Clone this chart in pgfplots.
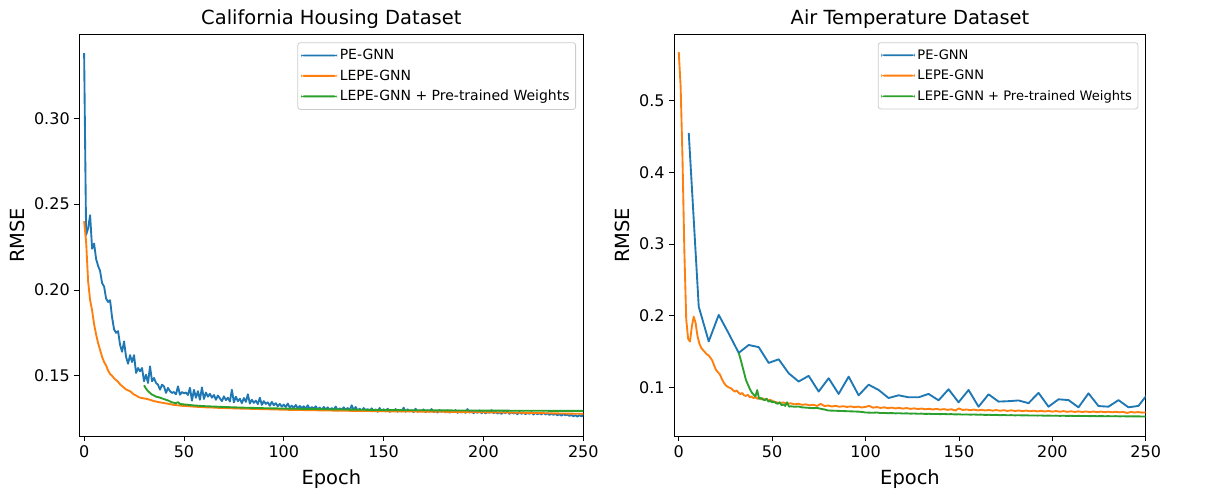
\documentclass[border=0pt]{standalone}
\usepackage{fontspec}
\setmainfont{DejaVu Sans}
\usepackage{pgfplots}
\pgfplotsset{compat=1.18}
\definecolor{tabblue}{HTML}{1F77B4}
\definecolor{taborange}{HTML}{FF7F0E}
\definecolor{tabgreen}{HTML}{2CA02C}
\definecolor{legframe}{HTML}{CCCCCC}
\pgfplotsset{mystyle/.style={
  scale only axis, anchor=south west,
  height=301pt,
  tick align=outside, tick pos=left, major tick length=3.7pt,
  every tick/.style={black, line width=0.6pt},
  axis line style={line width=0.6pt},
  xmin=-2.4, xmax=250, xtick={0,50,100,150,200,250},
  tick label style={font=\fontsize{12}{14}\selectfont},
  label style={font=\fontsize{14.6}{17}\selectfont},
  xlabel style={yshift=-2pt},
  title style={font=\fontsize{14.6}{17}\selectfont, yshift=-5pt},
  xlabel={Epoch}, ylabel={RMSE},
  /pgf/number format/assume math mode=true,
  legend cell align=left,
  legend style={at={(1,1)}, anchor=north east, xshift=-5.5pt, yshift=-5.7pt,
    draw=legframe, line width=0.6pt, rounded corners=2pt, fill=white,
    inner xsep=2.5pt, inner ysep=3pt, row sep=2pt},
}}
\pgfplotsset{pln/.style={line width=1.4pt, line join=round}}
\begin{document}
\begin{tikzpicture}[x=1pt,y=1pt]
\useasboundingbox (0,0) rectangle (905.25,-368.25);
\begin{axis}[mystyle, at={(59.5pt,-327pt)}, width=378pt,
  legend style={font=\fontsize{10.5}{12}\selectfont},
  legend image code/.code={\fill[#1] (0pt,-0.7pt) rectangle (27pt,0.7pt);},
  ymin=0.1149, ymax=0.3487, ytick={0.15,0.20,0.25,0.30},
  yticklabel style={/pgf/number format/.cd, fixed, fixed zerofill, precision=2},
  title={California Housing Dataset}]
\addlegendimage{fill=tabblue, draw=none}
\addlegendentry{PE-GNN}
\addlegendimage{fill=taborange, draw=none}
\addlegendentry{LEPE-GNN}
\addlegendimage{fill=tabgreen, draw=none}
\addlegendentry{LEPE-GNN + Pre-trained Weights}
\addplot[tabblue, pln, forget plot] coordinates {
(0,0.338) (1,0.232) (2,0.236) (3,0.2435) (4,0.224) (5,0.227) (6,0.218) (7,0.214) (8,0.211) (9,0.204)
(10,0.202) (11,0.195) (12,0.193) (13,0.194) (14,0.184) (15,0.177) (16,0.175) (17,0.176) (18,0.168) (19,0.164)
(20,0.170) (21,0.161) (22,0.157) (23,0.162) (24,0.158) (25,0.162) (26,0.1516) (27,0.1545) (28,0.1526) (29,0.1545)
(30,0.1468) (31,0.1506) (32,0.1458) (33,0.1555) (34,0.1468) (35,0.1487) (36,0.1458) (37,0.1448) (38,0.1419) (39,0.1448)
(40,0.1438) (41,0.1400) (42,0.1429) (43,0.1410) (44,0.1400) (45,0.1405) (46,0.1392) (47,0.1438) (48,0.1390) (49,0.1405)
(50,0.1398) (51,0.1402) (52,0.1388) (53,0.1430) (54,0.1355) (55,0.1418) (56,0.1372) (57,0.1410) (58,0.1360) (59,0.1432)
(60,0.1365) (61,0.1402) (62,0.1378) (63,0.1395) (64,0.1372) (65,0.1388) (66,0.1360) (67,0.1385) (68,0.1368) (69,0.1352)
(70,0.1380) (71,0.1358) (72,0.1372) (73,0.1350) (74,0.1418) (75,0.1345) (76,0.1378) (77,0.1352) (78,0.1366) (79,0.1340)
(80,0.1370) (81,0.1348) (82,0.1392) (83,0.1338) (84,0.1360) (85,0.1342) (86,0.1355) (87,0.1335) (88,0.1372) (89,0.1330)
(90,0.1352) (91,0.1336) (92,0.1345) (93,0.1325) (94,0.1348) (95,0.1328) (96,0.1340) (97,0.1322) (98,0.1336) (99,0.1320)
(100,0.1332) (101,0.1318) (102,0.1338) (103,0.1315) (104,0.1326) (105,0.1312) (106,0.1330) (107,0.1310) (108,0.1324) (109,0.1312)
(110,0.1322) (111,0.1308) (112,0.1328) (113,0.1305) (114,0.1318) (115,0.1308) (116,0.1322) (117,0.1303) (118,0.1315) (119,0.1300)
(120,0.1318) (121,0.1304) (122,0.1316) (123,0.1300) (124,0.1312) (125,0.1302) (126,0.1320) (127,0.1298) (128,0.1310) (129,0.1302)
(130,0.1316) (131,0.1300) (132,0.1312) (133,0.1298) (134,0.1328) (135,0.1300) (136,0.1318) (137,0.1296) (138,0.1308) (139,0.1293)
(140,0.1312) (141,0.1298) (142,0.1306) (143,0.1294) (144,0.1310) (145,0.1296) (146,0.1304) (147,0.1290) (148,0.1312) (149,0.1294)
(150,0.1305) (151,0.1292) (152,0.1308) (153,0.1290) (154,0.1300) (155,0.1294) (156,0.1306) (157,0.1290) (158,0.1302) (159,0.1292)
(160,0.1314) (161,0.1290) (162,0.1304) (163,0.1292) (164,0.1300) (165,0.1288) (166,0.1308) (167,0.1290) (168,0.1298) (169,0.1292)
(170,0.1304) (171,0.1288) (172,0.1298) (173,0.1290) (174,0.1306) (175,0.1288) (176,0.1296) (177,0.1286) (178,0.1300) (179,0.1290)
(180,0.1296) (181,0.1286) (182,0.1298) (183,0.1285) (184,0.1294) (185,0.1288) (186,0.1300) (187,0.1284) (188,0.1296) (189,0.1286)
(190,0.1294) (191,0.1284) (192,0.1306) (193,0.1286) (194,0.1296) (195,0.1282) (196,0.1292) (197,0.1284) (198,0.1298) (199,0.1282)
(200,0.1292) (201,0.1280) (202,0.1290) (203,0.1284) (204,0.1300) (205,0.1282) (206,0.1290) (207,0.1280) (208,0.1288) (209,0.1278)
(210,0.1290) (211,0.1282) (212,0.1294) (213,0.1278) (214,0.1288) (215,0.1280) (216,0.1286) (217,0.1276) (218,0.1290) (219,0.1278)
(220,0.1286) (221,0.1276) (222,0.1284) (223,0.1278) (224,0.1288) (225,0.1274) (226,0.1284) (227,0.1276) (228,0.1282) (229,0.1274)
(230,0.1286) (231,0.1274) (232,0.1282) (233,0.1272) (234,0.1280) (235,0.1272) (236,0.1278) (237,0.1270) (238,0.1276) (239,0.1268)
(240,0.1276) (241,0.1270) (242,0.1274) (243,0.1266) (244,0.1272) (245,0.1264) (246,0.1270) (247,0.1262) (248,0.1270) (249,0.1264)
(250,0.1268)};
\addplot[taborange, pln, forget plot] coordinates {
(0,0.240) (1,0.228) (2,0.205) (3,0.194) (4,0.188) (5,0.180) (6,0.174) (7,0.169) (8,0.165) (9,0.161)
(10,0.158) (11,0.156) (12,0.153) (13,0.151) (14,0.150) (15,0.1485) (16,0.1475) (17,0.1465) (18,0.145) (19,0.1440)
(20,0.143) (21,0.142) (22,0.1415) (23,0.141) (24,0.140) (25,0.139) (26,0.1385) (27,0.1378) (28,0.1372) (29,0.1370)
(30,0.1368) (31,0.1366) (32,0.1363) (33,0.1360) (34,0.1356) (35,0.1352) (36,0.1350) (37,0.1347) (38,0.1345) (40,0.1341)
(42,0.1337) (44,0.1332) (46,0.1329) (48,0.1326) (50,0.1324) (52,0.1323) (55,0.1320) (58,0.1318) (61,0.1316) (64,0.1315)
(67,0.1313) (70,0.1312) (75,0.1310) (80,0.1308) (85,0.1307) (90,0.1305) (95,0.1304) (100,0.1302) (105,0.1301) (110,0.1300)
(115,0.1299) (120,0.1298) (125,0.1297) (130,0.1296) (140,0.1295) (150,0.1293) (160,0.1292) (170,0.1291) (180,0.1290) (190,0.1288)
(200,0.1287) (210,0.1286) (220,0.1284) (230,0.1282) (240,0.1280) (250,0.1278)};
\addplot[tabgreen, pln, forget plot] coordinates {
(30,0.1444) (31,0.1425) (32,0.1410) (33,0.1400) (34,0.1390) (35,0.1385) (36,0.1378) (37,0.1376) (38,0.1372) (39,0.1368)
(40,0.1364) (42,0.1356) (44,0.1345) (46,0.1340) (47,0.1346) (48,0.1336) (50,0.1333) (55,0.1327) (60,0.1323) (70,0.1318)
(80,0.1314) (90,0.1311) (100,0.1309) (120,0.1305) (150,0.1300) (200,0.1297) (250,0.1295)};
\end{axis}
\begin{axis}[mystyle, at={(505.7pt,-327pt)}, width=353.6pt,
  legend style={font=\fontsize{9.8}{11.5}\selectfont, row sep=2.6pt},
  legend image code/.code={\fill[#1] (0pt,-0.7pt) rectangle (25pt,0.7pt);},
  ymin=0.032, ymax=0.592, ytick={0.1,0.2,0.3,0.4,0.5},
  yticklabel style={/pgf/number format/.cd, fixed, fixed zerofill, precision=1},
  title={Air Temperature Dataset}]
\addlegendimage{fill=tabblue, draw=none}
\addlegendentry{PE-GNN}
\addlegendimage{fill=taborange, draw=none}
\addlegendentry{LEPE-GNN}
\addlegendimage{fill=tabgreen, draw=none}
\addlegendentry{LEPE-GNN + Pre-trained Weights}
\addplot[tabblue, pln, forget plot] coordinates {
(5.35,0.455) (10.7,0.2125) (16.05,0.164) (21.4,0.201) (26.75,0.175) (32.1,0.148) (37.45,0.159) (42.8,0.156) (48.15,0.134) (53.5,0.139)
(58.85,0.1195) (64.2,0.108) (69.55,0.116) (74.9,0.094) (80.25,0.1126) (85.6,0.0907) (90.95,0.1148) (96.3,0.0888) (101.65,0.1036) (107,0.0962)
(112.35,0.085) (117.7,0.0888) (123.05,0.086) (128.4,0.086) (133.75,0.0907) (139.1,0.0818) (144.45,0.0972) (149.8,0.079) (155.15,0.0962) (160.5,0.0729)
(165.85,0.0902) (171.2,0.080) (176.55,0.0806) (181.9,0.0816) (187.25,0.0778) (192.6,0.0922) (197.95,0.0729) (203.3,0.0832) (208.65,0.0821) (214,0.0720)
(219.35,0.0915) (224.7,0.0738) (230.05,0.0729) (235.4,0.0821) (240.75,0.0720) (246.1,0.0740) (251.45,0.092)};
\addplot[taborange, pln, forget plot] coordinates {
(0,0.5676) (1,0.52) (2,0.42) (3,0.29) (4,0.195) (5,0.168) (6,0.1637) (7,0.1846) (8,0.1985) (9,0.190)
(10,0.172) (11,0.1614) (12,0.155) (13,0.152) (14,0.149) (15,0.146) (16,0.1445) (17,0.141) (18,0.137) (19,0.130)
(20,0.124) (21,0.121) (22,0.118) (23,0.112) (24,0.107) (25,0.1032) (26,0.101) (27,0.0995) (28,0.0986) (29,0.096)
(30,0.0939) (31,0.0955) (32,0.0925) (33,0.0905) (34,0.0920) (35,0.0885) (36,0.0880) (37,0.0895) (38,0.0862) (39,0.0870)
(40,0.0850) (41,0.0862) (42,0.0840) (43,0.0855) (44,0.0830) (45,0.0845) (46,0.0825) (47,0.0838) (48,0.0815) (49,0.0825)
(50,0.0808) (52,0.0792) (54,0.0780) (56,0.0788) (58,0.0770) (60,0.0776) (62,0.0762) (64,0.0770) (66,0.0755) (68,0.0762)
(70,0.0748) (72,0.0756) (74,0.0740) (76,0.0768) (78,0.0738) (80,0.0745) (82,0.0732) (84,0.0740) (86,0.0728) (88,0.0736)
(90,0.0725) (92,0.0733) (94,0.0722) (96,0.0730) (98,0.0718) (100,0.0726) (102,0.0740) (104,0.0715) (106,0.0724) (108,0.0712)
(110,0.0720) (112,0.0708) (114,0.0716) (116,0.0705) (118,0.0713) (120,0.0702) (122,0.0710) (124,0.0698) (126,0.0706) (128,0.0696)
(130,0.0703) (132,0.0693) (134,0.0700) (136,0.0690) (138,0.0698) (140,0.0688) (142,0.0695) (144,0.0685) (146,0.0693) (148,0.0675)
(150,0.0705) (152,0.0683) (154,0.0690) (156,0.0680) (158,0.0688) (160,0.0678) (162,0.0685) (164,0.0676) (166,0.0683) (168,0.0674)
(170,0.0682) (172,0.0672) (174,0.0680) (176,0.0670) (178,0.0678) (180,0.0669) (182,0.0676) (184,0.0667) (186,0.0675) (188,0.0665)
(190,0.0673) (192,0.0663) (194,0.0671) (196,0.0662) (198,0.0670) (200,0.0660) (202,0.0668) (204,0.0659) (206,0.0667) (208,0.0657)
(210,0.0665) (212,0.0656) (214,0.0664) (216,0.0655) (218,0.0662) (220,0.0654) (222,0.0661) (224,0.0653) (226,0.0660) (228,0.0652)
(230,0.0659) (232,0.0651) (234,0.0658) (236,0.0650) (238,0.0656) (240,0.0642) (242,0.0655) (244,0.0648) (246,0.0654) (248,0.0646)
(250,0.0650)};
\addplot[tabgreen, pln, forget plot] coordinates {
(32.1,0.148) (33,0.140) (34,0.130) (35,0.120) (36,0.110) (37,0.104) (38,0.098) (39,0.093) (40,0.090) (41,0.087)
(42,0.096) (43,0.084) (44,0.085) (45,0.083) (46,0.082) (47,0.084) (48,0.080) (49,0.081) (50,0.079) (51,0.080)
(52,0.078) (53,0.077) (54,0.079) (55,0.075) (56,0.076) (57,0.074) (58,0.079) (59,0.073) (60,0.0735) (62,0.0728)
(64,0.0732) (66,0.0720) (68,0.0716) (70,0.0712) (72,0.0708) (74,0.0712) (76,0.0700) (78,0.0690) (80,0.0676) (82,0.0674)
(84,0.0672) (86,0.0670) (88,0.0668) (90,0.0666) (92,0.0664) (94,0.0662) (96,0.0660) (98,0.0656) (100,0.0648) (102,0.0646)
(104,0.0644) (106,0.0648) (108,0.0640) (110,0.0642) (112,0.0638) (114,0.0640) (116,0.0636) (118,0.0638) (120,0.0634) (122,0.0636)
(124,0.0632) (126,0.0634) (128,0.0630) (130,0.0632) (132,0.0628) (134,0.0630) (136,0.0626) (138,0.0628) (140,0.0625) (142,0.0627)
(144,0.0624) (146,0.0625) (148,0.0621) (150,0.0623) (152,0.0619) (154,0.0621) (156,0.0618) (158,0.0620) (160,0.0617) (162,0.0618)
(164,0.0614) (166,0.0616) (168,0.0613) (170,0.0615) (172,0.0610) (174,0.0613) (176,0.0609) (178,0.0611) (180,0.0608) (182,0.0610)
(184,0.0607) (186,0.0609) (188,0.0606) (190,0.0607) (192,0.0605) (194,0.0606) (196,0.0603) (198,0.0605) (200,0.0602) (202,0.0604)
(204,0.0601) (206,0.0603) (208,0.0600) (210,0.0602) (212,0.0599) (214,0.0601) (216,0.0598) (218,0.0600) (220,0.0597) (222,0.0599)
(224,0.0596) (226,0.0598) (228,0.0596) (230,0.0597) (232,0.0595) (234,0.0597) (236,0.0594) (238,0.0596) (240,0.0593) (242,0.0595)
(244,0.0593) (246,0.0594) (248,0.0592) (250,0.0593)};
\end{axis}
\end{tikzpicture}
\end{document}
